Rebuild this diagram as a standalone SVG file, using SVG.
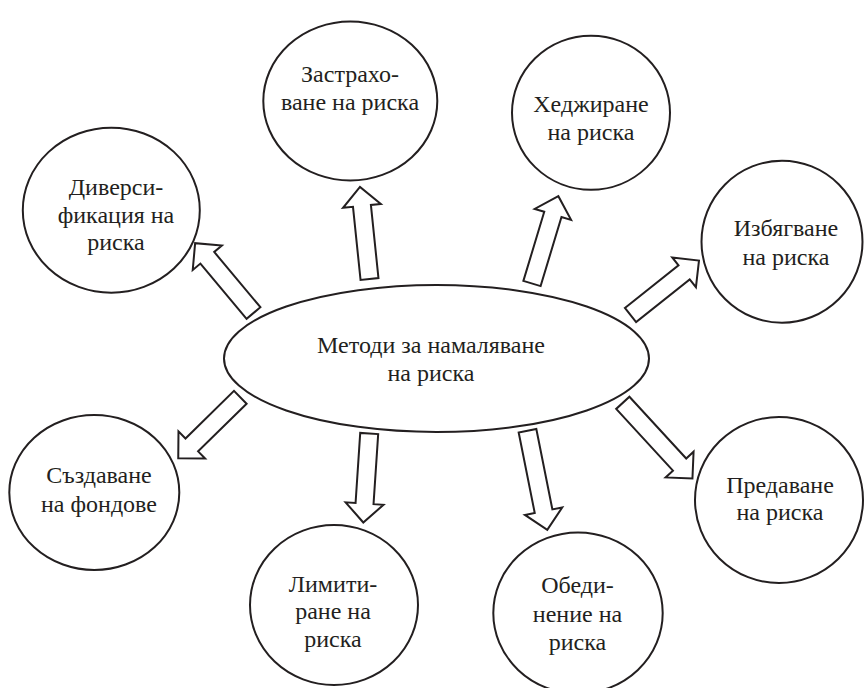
<svg xmlns="http://www.w3.org/2000/svg" width="864" height="688" viewBox="0 0 864 688">
<style>
.n{fill:#fff;stroke:#231f20;stroke-width:2}
.a{fill:#fff;stroke:#231f20;stroke-width:2;stroke-linejoin:miter}
text{font-family:"Liberation Serif","Times New Roman",serif;font-size:24px;fill:#231f20;text-anchor:middle}
</style>
<rect width="864" height="688" fill="#fff"/>
<g id="connectors">
<polygon class="a" transform="translate(253.5,313) rotate(230.1)" points="0,-9 72,-9 72,-19 91,0 72,19 72,9 0,9"/>
<polygon class="a" transform="translate(369.5,279) rotate(264.1)" points="0,-9 73.5,-9 73.5,-19 92.5,0 73.5,19 73.5,9 0,9"/>
<polygon class="a" transform="translate(532,283.5) rotate(-73.2)" points="0,-9 72.2,-9 72.2,-19 91.2,0 72.2,19 72.2,9 0,9"/>
<polygon class="a" transform="translate(630.5,315) rotate(-38.5)" points="0,-9 68.5,-9 68.5,-19 87.5,0 68.5,19 68.5,9 0,9"/>
<polygon class="a" transform="translate(240.3,397.3) rotate(135.5)" points="0,-9 68,-9 68,-19 87,0 68,19 68,9 0,9"/>
<polygon class="a" transform="translate(369.2,433.5) rotate(93.8)" points="0,-9 70.2,-9 70.2,-19 89.2,0 70.2,19 70.2,9 0,9"/>
<polygon class="a" transform="translate(527.5,430.8) rotate(78.7)" points="0,-9 82,-9 82,-19 101,0 82,19 82,9 0,9"/>
<polygon class="a" transform="translate(622.8,402.8) rotate(47.4)" points="0,-9 83.9,-9 83.9,-19 102.9,0 83.9,19 83.9,9 0,9"/>
</g>
<g id="center">
<ellipse class="n" cx="436.5" cy="358.5" rx="212.5" ry="73.5"/>
<text x="431" y="353">Методи за намаляване</text>
<text x="431" y="381">на риска</text>
</g>
<g id="zastrahovane">
<ellipse class="n" cx="350.3" cy="101" rx="87" ry="79.5"/>
<text x="350" y="82">Застрахо-</text>
<text x="350" y="110">ване на риска</text>
</g>
<g id="hedzhirane">
<ellipse class="n" cx="591" cy="112.7" rx="79" ry="77"/>
<text x="591" y="112">Хеджиране</text>
<text x="591" y="140">на риска</text>
</g>
<g id="diversifikatsia">
<ellipse class="n" cx="111.3" cy="210.2" rx="88.5" ry="82.5"/>
<text x="116" y="195">Диверси-</text>
<text x="116" y="223">фикация на</text>
<text x="116" y="250">риска</text>
</g>
<g id="izbyagvane">
<ellipse class="n" cx="782" cy="241.7" rx="80.5" ry="81"/>
<text x="786" y="236">Избягване</text>
<text x="786" y="265">на риска</text>
</g>
<g id="sazdavane">
<ellipse class="n" cx="94.3" cy="492.5" rx="85" ry="77.5"/>
<text x="99" y="483">Създаване</text>
<text x="99" y="512">на фондове</text>
</g>
<g id="limitirane">
<ellipse class="n" cx="334" cy="605" rx="84" ry="80"/>
<text x="333" y="592">Лимити-</text>
<text x="333" y="619">ране на</text>
<text x="333" y="647">риска</text>
</g>
<g id="obedinenie">
<ellipse class="n" cx="578" cy="613" rx="84.7" ry="80.5"/>
<text x="577.5" y="593">Обеди-</text>
<text x="577.5" y="622">нение на</text>
<text x="577.5" y="650">риска</text>
</g>
<g id="predavane">
<ellipse class="n" cx="779" cy="500" rx="84" ry="83"/>
<text x="780" y="493">Предаване</text>
<text x="780" y="520">на риска</text>
</g>
</svg>
